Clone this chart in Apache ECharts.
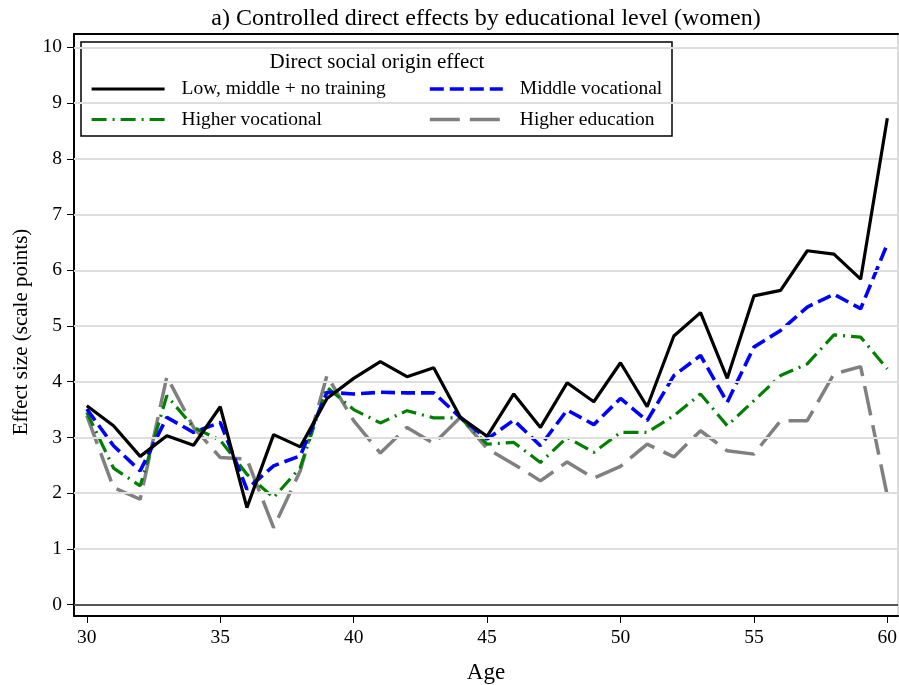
<!DOCTYPE html>
<html>
<head>
<meta charset="utf-8">
<script src="https://cdn.jsdelivr.net/npm/echarts@6/dist/echarts.min.js"></script>
<style>html,body{margin:0;padding:0;background:#fff;}#c{width:899px;height:685px;}</style>
</head>
<body>
<div id="c"></div>
<script>
const ages = [30,31,32,33,34,35,36,37,38,39,40,41,42,43,44,45,46,47,48,49,50,51,52,53,54,55,56,57,58,59,60];
const lowMiddle = [3.57,3.21,2.66,3.03,2.86,3.55,1.74,3.05,2.83,3.70,4.06,4.36,4.09,4.25,3.36,3.02,3.78,3.18,3.98,3.64,4.34,3.55,4.82,5.24,4.06,5.54,5.64,6.35,6.29,5.84,8.73];
const middleVoc = [3.51,2.85,2.40,3.36,3.09,3.27,2.07,2.49,2.67,3.81,3.78,3.81,3.80,3.80,3.36,2.97,3.31,2.85,3.49,3.23,3.70,3.30,4.11,4.47,3.63,4.62,4.92,5.34,5.57,5.31,6.47];
const higherVoc = [3.45,2.45,2.13,3.75,3.18,2.95,2.34,1.92,2.46,3.90,3.50,3.26,3.48,3.35,3.35,2.88,2.91,2.55,3.00,2.73,3.09,3.09,3.39,3.78,3.21,3.66,4.11,4.32,4.84,4.80,4.23];
const higherEdu = [3.39,2.10,1.89,4.09,3.18,2.64,2.61,1.38,2.40,4.11,3.30,2.72,3.18,2.89,3.36,2.80,2.52,2.22,2.56,2.27,2.48,2.88,2.65,3.12,2.76,2.70,3.30,3.30,4.14,4.27,1.95];
const xTicks = [30,35,40,45,50,55,60];
const yTicks = [0,1,2,3,4,5,6,7,8,9,10];
const gridValues = [1,2,3,4,5,6,7,8,9,10];
const seriesNames = ['Low, middle + no training','Middle vocational','Higher vocational','Higher education'];

const FONT = '"Liberation Serif", "DejaVu Serif", serif';
const pairs = arr => ages.map((a,i)=>[a,arr[i]]);

const chart = echarts.init(document.getElementById('c'), null, {renderer:'canvas'});
const legendText = {fontFamily:FONT, fontSize:19.5, color:'#000', padding:[0,0,0,12]};
const legendCommon = {orient:'vertical', top:79, itemWidth:73, itemHeight:14, itemGap:10.5, padding:0,
  textStyle:legendText, itemStyle:{opacity:0}, lineStyle:{width:'inherit'}, selectedMode:false, z:10};
chart.setOption({
  animation:false,
  backgroundColor:'#fff',
  title:{
    text:'a) Controlled direct effects by educational level (women)',
    left:486, top:7, textAlign:'center', padding:0,
    textStyle:{fontFamily:FONT, fontSize:24, fontWeight:'normal', color:'#000'}
  },
  grid:{left:74, right:1, top:34, bottom:69, containLabel:false, outerBoundsMode:'none'},
  legend:[
    Object.assign({data:[seriesNames[0], seriesNames[2]], left:90}, legendCommon),
    Object.assign({data:[seriesNames[1], seriesNames[3]], left:428}, legendCommon)
  ],
  graphic:[
    {type:'rect', shape:{x:81, y:42, width:591, height:94}, style:{fill:'#fff', stroke:'#000', lineWidth:1.5}, z:5},
    {type:'text', x:377, y:62, style:{text:'Direct social origin effect', fontFamily:FONT, fontSize:21, fill:'#000', textAlign:'center', textVerticalAlign:'middle'}, z:6}
  ],
  xAxis:[
    {type:'value', min:29.52, max:60.4, position:'bottom',
     name:'Age', nameLocation:'middle', nameGap:45,
     nameTextStyle:{fontFamily:FONT, fontSize:23, color:'#000'},
     axisLine:{show:true, onZero:false, lineStyle:{color:'#000', width:2}},
     axisTick:{show:true, customValues:xTicks, length:7, lineStyle:{color:'#000', width:1}},
     axisLabel:{customValues:xTicks, margin:12, fontFamily:FONT, fontSize:19.5, color:'#000'},
     splitLine:{show:false}},
    {type:'value', min:29.52, max:60.4, position:'top',
     axisLine:{show:true, onZero:false, lineStyle:{color:'#000', width:2}},
     axisTick:{show:false}, axisLabel:{show:false}, splitLine:{show:false}}
  ],
  yAxis:[
    {type:'value', min:-0.205, max:10.24, position:'left',
     name:'Effect size (scale points)', nameLocation:'middle', nameGap:42, nameRotate:90,
     nameTextStyle:{fontFamily:FONT, fontSize:21, color:'#000', padding:[0,14,0,0]},
     axisLine:{show:true, onZero:false, lineStyle:{color:'#000', width:2}},
     axisTick:{show:true, customValues:yTicks, length:7, lineStyle:{color:'#000', width:1}},
     axisLabel:{customValues:yTicks, margin:12, fontFamily:FONT, fontSize:19.5, color:'#000'},
     splitLine:{show:false}},
    {type:'value', min:-0.205, max:10.24, position:'right',
     axisLine:{show:true, onZero:false, lineStyle:{color:'#cfcfcf', width:1.5}},
     axisTick:{show:false}, axisLabel:{show:false}, splitLine:{show:false}}
  ],
  series:[
    {type:'line', name:'_grid', data:[], z:1, silent:true,
     markLine:{silent:true, symbol:['none','none'], label:{show:false},
       lineStyle:{color:'#dedede', width:2, type:'solid'},
       data:gridValues.map(v=>({yAxis:v}))}},
    {type:'line', name:'_zero', data:[], z:1, silent:true,
     markLine:{silent:true, symbol:['none','none'], label:{show:false},
       lineStyle:{color:'#555', width:2, type:'solid'},
       data:[{yAxis:0}]}},
    {type:'line', name:seriesNames[3], data:pairs(higherEdu), symbol:'none', z:2,
     lineStyle:{color:'#808080', width:3.5, type:[30,10]}, itemStyle:{color:'#808080'}},
    {type:'line', name:seriesNames[2], data:pairs(higherVoc), symbol:'none', z:3,
     lineStyle:{color:'#008000', width:3.2, type:[15,6,2,6]}, itemStyle:{color:'#008000'}},
    {type:'line', name:seriesNames[1], data:pairs(middleVoc), symbol:'none', z:4,
     lineStyle:{color:'#0000ff', width:3.6, type:[14,6]}, itemStyle:{color:'#0000ff'}},
    {type:'line', name:seriesNames[0], data:pairs(lowMiddle), symbol:'none', z:5,
     lineStyle:{color:'#000', width:3.2}, itemStyle:{color:'#000'}}
  ]
});
</script>
</body>
</html>
